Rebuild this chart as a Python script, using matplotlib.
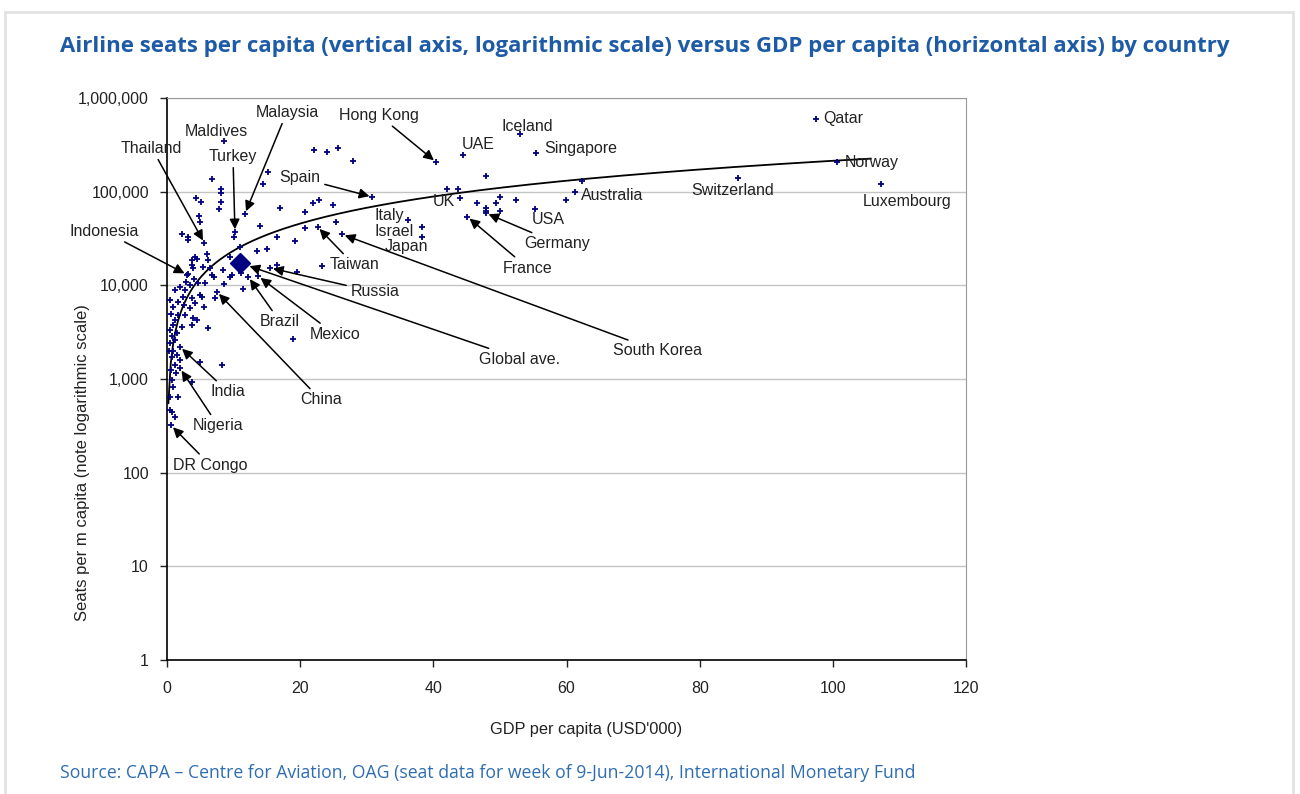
import numpy as np
import matplotlib
matplotlib.use("Agg")
import matplotlib.pyplot as plt
from matplotlib.patches import Rectangle
from matplotlib.ticker import FuncFormatter, FixedLocator, NullLocator

plt.rcParams['font.family'] = ['Liberation Sans', 'DejaVu Sans']

# labelled countries: GDP per capita (USD'000), seats per m capita
countries = ["Qatar", "Norway", "Luxembourg", "Switzerland", "Iceland", "Singapore",
             "UAE", "Hong Kong", "Australia", "USA", "Germany", "France", "UK",
             "Japan", "Israel", "Italy", "Spain", "Maldives", "Malaysia", "South Korea",
             "Turkey", "Thailand", "Taiwan", "Indonesia", "Russia", "Mexico", "Brazil",
             "China", "India", "Nigeria", "DR Congo"]
country_gdp = [97.5, 100.6, 107.2, 85.8, 53.0, 55.4,
               44.5, 40.4, 61.3, 55.3, 47.9, 45.1, 44.0,
               38.3, 38.3, 36.2, 30.8, 8.6, 11.7, 26.3,
               10.2, 5.6, 22.6, 3.0, 15.5, 13.7, 12.2,
               7.5, 1.95, 1.95, 0.6]
country_seats = [597000, 207000, 121000, 139000, 413000, 259000,
                 246000, 207000, 99000, 65000, 59000, 54000, 85000,
                 33000, 42000, 50000, 88000, 348000, 58000, 35000,
                 37000, 28300, 42000, 13000, 15300, 12500, 12300,
                 8500, 2200, 1300, 320]

# unlabelled countries
other_gdp = [47.9, 62.3, 59.9, 52.4, 50.0, 50.0, 49.4, 47.9, 47.9, 46.6, 43.7, 42.1,
             22.1, 24.0, 25.7, 27.9, 15.2, 14.4, 6.8, 8.1, 8.1, 4.35, 5.1, 8.1, 7.8,
             17.0, 20.7, 21.9, 22.8, 24.9, 20.7, 25.4, 4.8, 5.0, 14.0, 10.1, 2.25,
             3.15, 3.15, 16.5, 19.2, 13.5, 15.0, 11.0, 6.0, 4.2, 3.75, 4.5, 6.2, 9.5,
             5.4, 6.5, 8.4, 9.8, 6.8, 7.0, 3.75, 3.9, 3.15, 16.5, 19.5, 23.3, 11.1,
             9.5, 8.6, 11.4, 7.2, 5.3, 4.2, 5.6, 2.7, 1.95, 1.2, 2.4, 3.75, 1.65, 0.9,
             3.45, 1.65, 1.2, 3.9, 4.5, 0.9, 3.75, 6.2, 0.45, 1.5, 0.75, 1.2, 0.45,
             0.9, 1.5, 0.75, 1.95, 1.2, 5.0, 8.3, 18.9, 3.75, 0.75, 0.9, 0.45, 1.65,
             0.45, 0.75, 1.2, 0.45, 0.6, 0.3, 0.6, 1.35, 2.25, 2.7, 2.55, 3.45, 2.85,
             4.05, 4.65, 5.0, 5.7]
other_seats = [146000, 130000, 81000, 81000, 88000, 62000, 76000, 67000, 62000, 76000,
               107000, 107000, 279000, 267000, 290000, 214000, 162000, 121000, 136000,
               107000, 97000, 86000, 77000, 77000, 65000, 67000, 60000, 76000, 81000,
               72000, 41000, 47000, 55000, 47000, 43000, 33000, 35000, 33000, 30500,
               33000, 30000, 23500, 24500, 25700, 21600, 20000, 18600, 19000, 18600,
               20000, 15700, 15300, 14600, 12900, 12900, 12300, 16600, 15300, 13300,
               16500, 13900, 16100, 13500, 12300, 10400, 9200, 7300, 7500, 6500, 5800,
               8900, 9600, 8900, 7500, 7300, 6700, 5900, 5700, 4800, 4300, 4500, 4300,
               3800, 3800, 3500, 3300, 3100, 2850, 2600, 2400, 2000, 1800, 1700, 1600,
               1400, 1500, 1400, 2700, 930, 975, 820, 640, 640, 470, 440, 395, 7000,
               5000, 2000, 1250, 1150, 3600, 4800, 6100, 10100, 10800, 11700, 10500,
               7800, 10600]

global_gdp = 11.0
global_seats = 17300

# label layout: text centre (data coords), draw arrow?
label_layout = {
    "Thailand": (-2.3, 292000, True), "Maldives": (7.4, 444000, False),
    "Malaysia": (18.0, 708000, True), "Hong Kong": (31.8, 658000, True),
    "Iceland": (54.1, 502000, False), "UAE": (46.7, 315000, False),
    "Singapore": (62.2, 292000, False), "Qatar": (101.5, 611000, False),
    "Norway": (105.9, 204000, False), "Switzerland": (84.9, 102000, False),
    "Luxembourg": (111.1, 79000, False), "Australia": (66.8, 90000, False),
    "USA": (57.2, 51000, False), "Germany": (58.6, 28000, True),
    "France": (54.2, 15300, True), "UK": (41.6, 79000, False),
    "Italy": (33.3, 55000, False), "Israel": (34.1, 38000, False),
    "Japan": (35.9, 26000, False), "Spain": (20.0, 140000, True),
    "Turkey": (9.9, 240000, True), "Indonesia": (-9.5, 38000, True),
    "Taiwan": (28.1, 16500, True), "South Korea": (73.6, 2000, True),
    "Russia": (31.2, 8500, True), "Mexico": (25.2, 3000, True),
    "Brazil": (17.0, 4060, True), "China": (23.1, 597, True),
    "India": (9.2, 727, True), "Nigeria": (7.7, 315, True),
    "DR Congo": (6.5, 120, True),
}
global_label = (53.0, 1630)

navy = '#000080'
title_blue = '#1d5ba6'
txt = '#222222'

fig = plt.figure(figsize=(13, 7.94), dpi=100)
fig.patches.append(Rectangle((5 / 1300, -0.01), 1288 / 1300, 0.995, transform=fig.transFigure,
                             fill=False, edgecolor='#e2e2e2', lw=2))

ax = fig.add_axes([0.1285, 0.1688, 0.6146, 0.7078])
ax.set_yscale('log')
ax.set_xlim(0, 120)
ax.set_ylim(1, 1e6)

all_gdp = np.array(country_gdp + other_gdp)
all_seats = np.array(country_seats + other_seats)

# power trendline fitted to the data
b, loga = np.polyfit(np.log(all_gdp), np.log(all_seats), 1)
tx = np.linspace(0.2, all_gdp.max() - 1.5, 300)
ax.plot(tx, np.exp(loga) * tx ** b, color='black', lw=1.3, zorder=2)

ax.plot(all_gdp, all_seats, ls='none', marker='+', ms=4, mew=1.3, color=navy, zorder=3)
ax.plot([global_gdp], [global_seats], ls='none', marker='D', ms=10, color=navy, zorder=4)

arrow = dict(arrowstyle='-|>', color='black', lw=1.1, mutation_scale=15,
             shrinkA=1, shrinkB=2)
for name, gx, sy in zip(countries, country_gdp, country_seats):
    tx_, ty_, has_arrow = label_layout[name]
    ax.annotate(name, xy=(gx, sy), xytext=(tx_, ty_), ha='center', va='center',
                fontsize=11.5, color=txt, annotation_clip=False,
                arrowprops=arrow if has_arrow else None, zorder=5)
ax.annotate("Global ave.", xy=(global_gdp, global_seats), xytext=global_label,
            ha='center', va='center', fontsize=11.5, color=txt,
            arrowprops=dict(arrow, shrinkB=7), zorder=5)

ax.yaxis.set_major_locator(FixedLocator([1, 10, 100, 1000, 1e4, 1e5, 1e6]))
ax.yaxis.set_minor_locator(NullLocator())
ax.yaxis.set_major_formatter(FuncFormatter(lambda v, p: f"{v:,.0f}"))
ax.set_xticks(np.arange(0, 121, 20))
ax.grid(axis='y', color='#c4c4c4', lw=1)
ax.set_axisbelow(True)
ax.tick_params(labelsize=11.5, colors=txt, length=5, width=1)
ax.tick_params(axis='y', pad=8)
ax.tick_params(axis='x', pad=10)
for s in ['top', 'right']:
    ax.spines[s].set_color('#999999')
for s in ['left', 'bottom']:
    ax.spines[s].set_color('black')
    ax.spines[s].set_linewidth(1.2)

ax.set_xlabel("GDP per capita (USD'000)", fontsize=11.8, color=txt)
ax.xaxis.set_label_coords(0.525, -0.111)
ax.set_ylabel("Seats per m capita (note logarithmic scale)", fontsize=12, color=txt)
ax.yaxis.set_label_coords(-0.096, 0.352)

fig.text(0.046, 0.941, "Airline seats per capita (vertical axis, logarithmic scale) versus "
         "GDP per capita (horizontal axis) by country", fontsize=16, fontweight='bold',
         color=title_blue, va='center', family=['Open Sans', 'DejaVu Sans'])
fig.text(0.046, 0.026, "Source: CAPA \u2013 Centre for Aviation, OAG (seat data for week of "
         "9-Jun-2014), International Monetary Fund", fontsize=12.7, color='#2f6db3',
         va='center', family=['Open Sans', 'DejaVu Sans'])

fig.savefig("out.png", dpi=100)
